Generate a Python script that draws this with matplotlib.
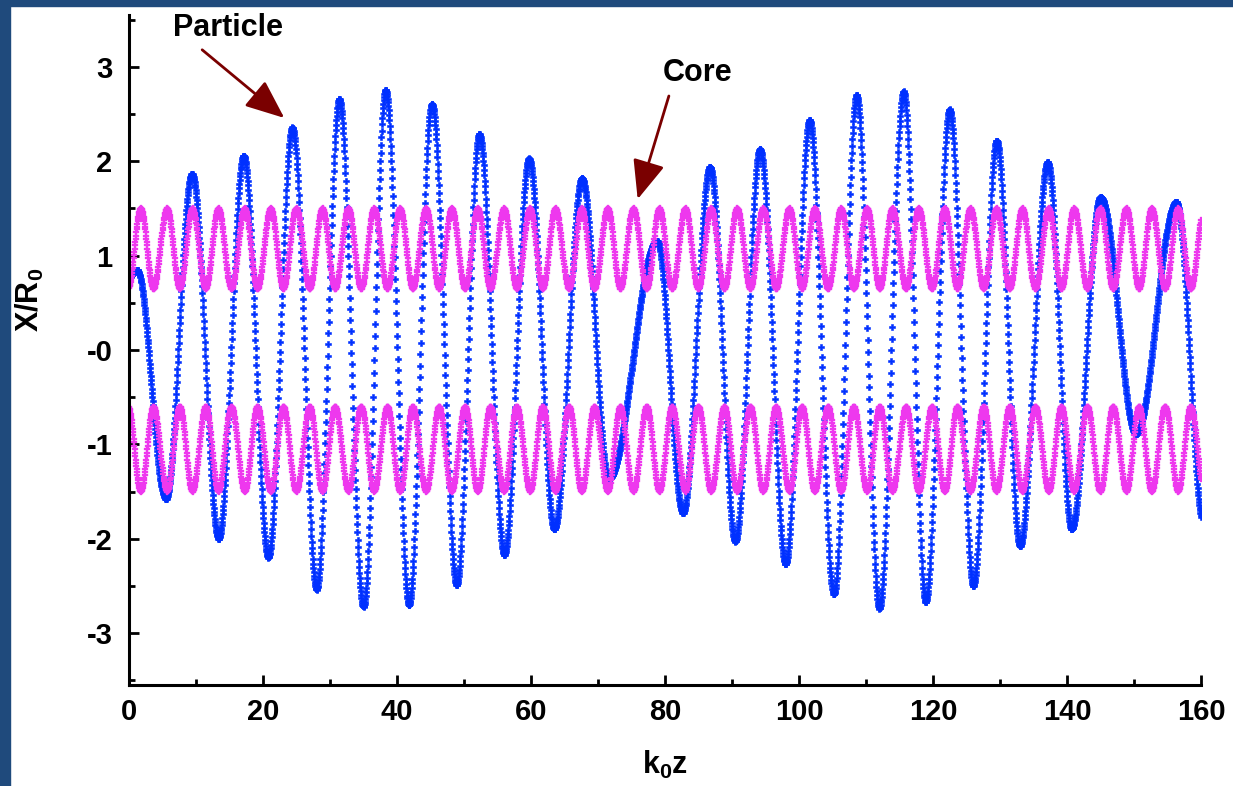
import numpy as np
import matplotlib.pyplot as plt
from matplotlib.patches import Rectangle
from matplotlib.ticker import MultipleLocator, FixedLocator, FixedFormatter

# particle trajectory: turning points (k0z, X/R0)
particle_z = [0.0, 1.2, 5.5, 9.4, 13.4, 17.1, 20.8, 24.4, 28.0, 31.4, 35.0,
              38.3, 41.8, 45.2, 48.9, 52.3, 56.0, 59.7, 63.5, 67.6, 71.6,
              78.8, 82.7, 86.7, 90.5, 94.2, 98.0, 101.6, 105.2, 108.6, 112.0,
              115.6, 118.9, 122.5, 126.0, 129.5, 133.0, 137.1, 140.7, 145.0,
              150.3, 156.3, 160.4]
particle_x = [0.77, 0.85, -1.58, 1.87, -2.0, 2.06, -2.2, 2.36, -2.54, 2.66, -2.72,
              2.76, -2.70, 2.61, -2.49, 2.29, -2.17, 2.03, -1.9, 1.82, -1.37,
              1.16, -1.73, 1.94, -2.03, 2.13, -2.27, 2.44, -2.59, 2.70, -2.74,
              2.74, -2.67, 2.55, -2.5, 2.22, -2.08, 1.99, -1.9, 1.62,
              -0.89, 1.57, -1.85]

# core edges: positions of the outer (peak) and inner (trough) turning points
core_peak_z = [1.8, 5.7, 9.5, 13.4, 17.3, 21.2, 25.0, 28.9, 32.8, 36.6, 40.5,
               44.4, 48.2, 52.1, 56.0, 59.9, 63.7, 67.6, 71.5, 75.3, 79.2,
               83.1, 86.9, 90.8, 94.7, 98.6, 102.4, 106.3, 110.2, 114.0, 117.9,
               121.8, 125.6, 129.5, 133.4, 137.3, 141.1, 145.0, 148.9, 152.7,
               156.6, 160.5]
core_trough_z = [-0.1, 3.7, 7.6, 11.5, 15.3, 19.2, 23.1, 27.0, 30.8, 34.7, 38.6,
                 42.4, 46.3, 50.2, 54.0, 57.9, 61.8, 65.7, 69.5, 73.4, 77.3,
                 81.1, 85.0, 88.9, 92.8, 96.6, 100.5, 104.4, 108.2, 112.1, 116.0,
                 119.9, 123.7, 127.6, 131.5, 135.3, 139.2, 143.1, 146.9, 150.8,
                 154.7, 158.5]
core_upper = (0.65, 1.5)    # (inner, outer)
core_lower = (-0.6, -1.5)

ytick_vals = [-3, -2, -1, 0, 1, 2, 3]
ytick_labels = ['-3', '-2', '-1', '-0', '1', '2', '3']

BLUE = '#0030ff'
MAGENTA = '#ee38ee'
ARROW = '#7a0000'
NAVY = '#1f4a7c'


def smooth_path(turn_z, turn_v, z):
    # half-cosine swing between consecutive turning points
    turn_z = np.asarray(turn_z)
    turn_v = np.asarray(turn_v)
    i = np.clip(np.searchsorted(turn_z, z, side='right') - 1, 0, len(turn_z) - 2)
    t = (z - turn_z[i]) / (turn_z[i + 1] - turn_z[i])
    w = (1 - np.cos(np.pi * t)) / 2
    return turn_v[i] + (turn_v[i + 1] - turn_v[i]) * w


def core_edge(inner, outer):
    pts = sorted([(z, outer) for z in core_peak_z] + [(z, inner) for z in core_trough_z])
    return [p[0] for p in pts], [p[1] for p in pts]


z = np.arange(0, 160.0001, 0.05)

plt.rcParams['font.family'] = ['Liberation Sans', 'DejaVu Sans']
plt.rcParams['mathtext.fontset'] = 'custom'
plt.rcParams['mathtext.rm'] = 'Liberation Sans:bold'

fig = plt.figure(figsize=(12.33, 7.86), dpi=100)
fig.patches.append(Rectangle((0, 0), 10 / 1233, 1, transform=fig.transFigure,
                             color=NAVY, zorder=0))
fig.patches.append(Rectangle((0, 1 - 6 / 786), 1, 6 / 786, transform=fig.transFigure,
                             color=NAVY, zorder=0))

ax = fig.add_axes([129 / 1233, 101 / 786, 1072 / 1233, 670 / 786])

ax.plot(z, smooth_path(particle_z, particle_x, z), linestyle='none', marker='P',
        ms=5, color=BLUE, mec=BLUE, mew=0.4)
for inner, outer in (core_upper, core_lower):
    cz, cv = core_edge(inner, outer)
    ax.plot(z, smooth_path(cz, cv, z), linestyle='none', marker='P',
            ms=4.6, color=MAGENTA, mec=MAGENTA, mew=0.2)

ax.set_xlim(0, 160)
ax.set_ylim(-3.55, 3.55)
ax.xaxis.set_major_locator(MultipleLocator(20))
ax.xaxis.set_minor_locator(MultipleLocator(10))
ax.yaxis.set_major_locator(FixedLocator(ytick_vals))
ax.yaxis.set_major_formatter(FixedFormatter(ytick_labels))
ax.yaxis.set_minor_locator(MultipleLocator(0.5))

for side in ('top', 'right'):
    ax.spines[side].set_visible(False)
for side in ('left', 'bottom'):
    ax.spines[side].set_linewidth(2.2)
ax.tick_params(which='both', direction='in', width=2, labelsize=21)
ax.tick_params(which='major', length=7)
ax.tick_params(which='minor', length=4)
ax.tick_params(axis='x', pad=9)
ax.tick_params(axis='y', pad=12)
for lab in ax.get_xticklabels() + ax.get_yticklabels():
    lab.set_fontweight('bold')

ax.set_xlabel(r'$\mathrm{k_0z}$', fontsize=22)
ax.set_ylabel(r'$\mathrm{X/R_0}$', fontsize=22)
ax.xaxis.set_label_coords(0.5, -0.095)
ax.yaxis.set_label_coords(-0.077, 0.575)

# labels with arrows
head = '-|>,head_length=1.2,head_width=0.5'
ax.annotate('', xy=(23.5, 2.44), xytext=(10.6, 3.2),
            arrowprops=dict(arrowstyle=head, mutation_scale=20, lw=2, color=ARROW),
            annotation_clip=False)
ax.text(14.8, 3.41, 'Particle', fontsize=22, fontweight='bold', ha='center', va='center')
ax.annotate('', xy=(75.8, 1.57), xytext=(80.7, 2.72),
            arrowprops=dict(arrowstyle=head, mutation_scale=20, lw=2, color=ARROW),
            annotation_clip=False)
ax.text(84.8, 2.94, 'Core', fontsize=22, fontweight='bold', ha='center', va='center')

fig.savefig('out.png', dpi=100, facecolor='white')
